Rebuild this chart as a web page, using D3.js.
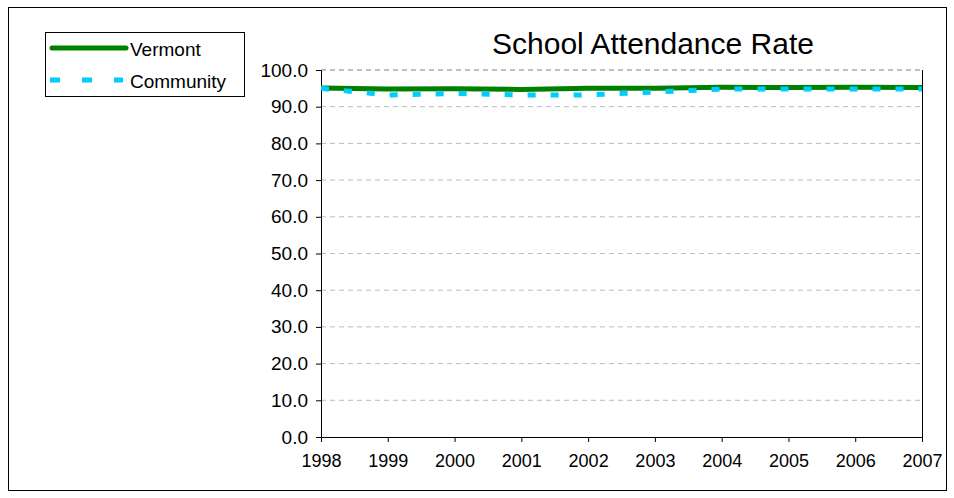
<!DOCTYPE html>
<html><head><meta charset="utf-8">
<script src="https://cdn.jsdelivr.net/npm/d3@7"></script>
<style>body{margin:0;background:#fff}text{font-family:"Liberation Sans",Arial,sans-serif}</style>
</head><body><svg id="c" width="954" height="498"></svg>
<script>
const years = [1998,1999,2000,2001,2002,2003,2004,2005,2006,2007];
const vermont = [95.1,94.8,94.9,94.7,95.0,95.0,95.3,95.2,95.3,95.2];
const community = [95.0,93.2,93.6,93.2,93.2,94.0,94.8,94.8,94.8,94.8];
const yTicks = d3.range(0,101,10);

const svg = d3.select("#c");
svg.append("rect").attr("x",8.5).attr("y",7.5).attr("width",938).attr("height",483)
  .attr("fill","none").attr("stroke","#000");

const x = d3.scaleLinear().domain([1998,2007]).range([321,922]);
const y = d3.scaleLinear().domain([0,100]).range([437,70]);

// grid
svg.append("g").selectAll("line").data(yTicks.slice(1)).join("line")
  .attr("x1",321).attr("x2",922).attr("y1",d=>y(d)).attr("y2",d=>y(d))
  .attr("stroke",d=>d==100?"#808080":"#bbb").attr("stroke-dasharray","5,4");
svg.append("line").attr("x1",922.5).attr("x2",922.5).attr("y1",70).attr("y2",437).attr("stroke","#000");

const ya = svg.append("g").attr("transform","translate(321,0)")
  .call(d3.axisLeft(y).tickValues(yTicks).tickFormat(d3.format(".1f")).tickSize(5).tickPadding(8));
ya.selectAll("text").attr("font-size",19).attr("fill","#000");
const xa = svg.append("g").attr("transform","translate(0,437)")
  .call(d3.axisBottom(x).tickValues(years).tickFormat(d3.format("d")).tickSize(5));
xa.selectAll("text").attr("font-size",18).attr("fill","#000").attr("dy","1.2em");
svg.selectAll(".domain,.tick line").attr("stroke","#000");

const line = d3.line().x((d,i)=>x(years[i])).y(d=>y(d));
svg.append("path").datum(vermont).attr("d",line).attr("fill","none")
  .attr("stroke","#008000").attr("stroke-width",5);
svg.append("path").datum(community).attr("d",line).attr("fill","none")
  .attr("stroke","#00ccff").attr("stroke-width",5).attr("stroke-dasharray","8,15");

svg.append("text").attr("x",653).attr("y",54).attr("text-anchor","middle")
  .attr("font-size",30).text("School Attendance Rate");

// legend
const lg = svg.append("g");
lg.append("rect").attr("x",45.5).attr("y",32.5).attr("width",199).attr("height",64)
  .attr("fill","#fff").attr("stroke","#000");
lg.append("line").attr("x1",52).attr("x2",126).attr("y1",48).attr("y2",48)
  .attr("stroke","#008000").attr("stroke-width",5).attr("stroke-linecap","round");
lg.append("line").attr("x1",50).attr("x2",123).attr("y1",80).attr("y2",80)
  .attr("stroke","#00ccff").attr("stroke-width",5).attr("stroke-dasharray","10,22");
lg.append("text").attr("x",130).attr("y",56).attr("font-size",19).text("Vermont");
lg.append("text").attr("x",130).attr("y",88).attr("font-size",19).text("Community");
</script></body></html>
